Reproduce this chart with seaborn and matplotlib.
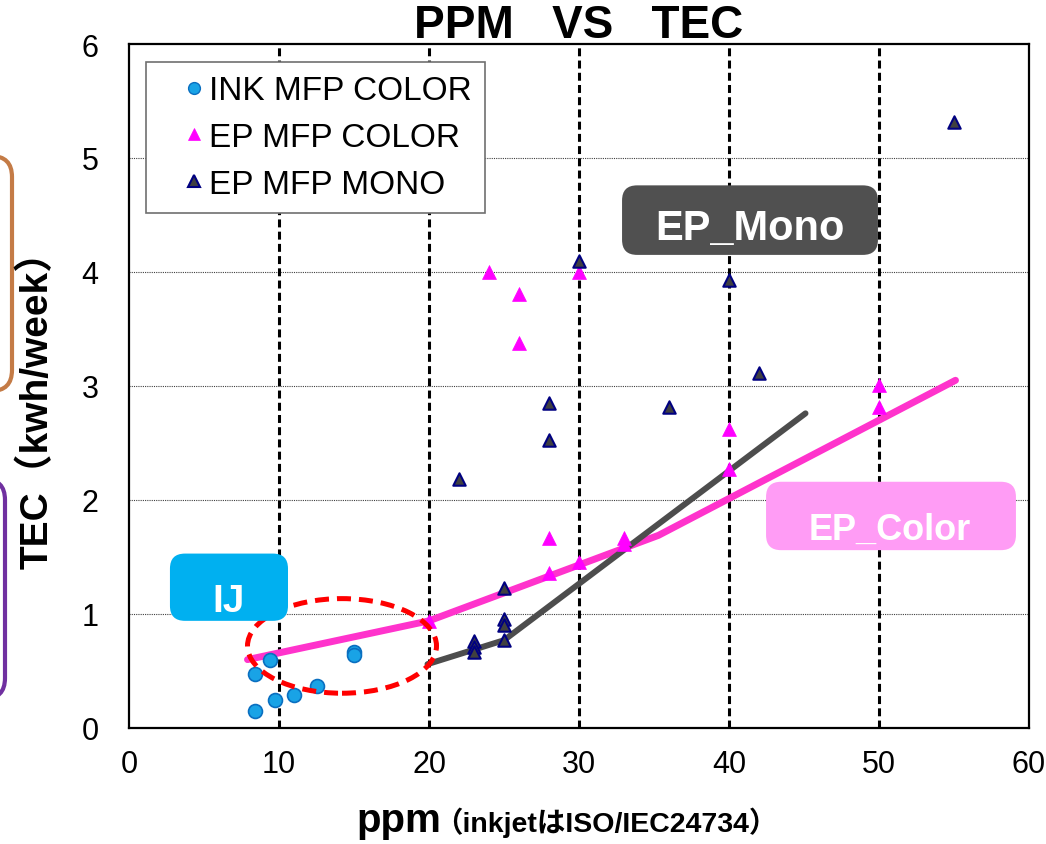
import matplotlib
matplotlib.use("Agg")
import matplotlib.pyplot as plt
import seaborn as sns
import pandas as pd
from matplotlib.patches import FancyBboxPatch, Ellipse
from matplotlib.lines import Line2D

# ---------------- data ----------------
ink_ppm = [9.4, 8.4, 9.7, 8.4, 11.0, 12.5, 15.0, 15.0]
ink_tec = [0.60, 0.47, 0.25, 0.15, 0.29, 0.37, 0.67, 0.64]

epc_ppm = [20, 24, 26, 26, 28, 28, 30, 30, 33, 33, 40, 40, 50, 50]
epc_tec = [0.94, 4.00, 3.81, 3.38, 1.67, 1.36, 1.46, 4.00, 1.67, 1.61, 2.62, 2.27, 3.01, 2.82]

epm_ppm = [22, 23, 23, 23, 25, 25, 25, 25, 28, 28, 30, 36, 40, 42, 55]
epm_tec = [2.18, 0.76, 0.71, 0.67, 1.23, 0.96, 0.90, 0.77, 2.85, 2.53, 4.10, 2.82, 3.93, 3.11, 5.32]

color_trend_ppm = [7.9, 20, 35.3, 55.1]
color_trend_tec = [0.60, 0.94, 1.69, 3.05]
mono_trend_ppm = [19.9, 25, 45.1]
mono_trend_tec = [0.56, 0.77, 2.76]

series_labels = ["INK MFP COLOR", "EP MFP COLOR", "EP MFP MONO"]
x_ticks = [0, 10, 20, 30, 40, 50, 60]
y_ticks = [0, 1, 2, 3, 4, 5, 6]
ref_lines = [10, 20, 30, 40, 50]
grid_lines = [1, 2, 3, 4, 5]

# ---------------- style ----------------
sns.set_theme(style="white")
plt.rcParams["font.family"] = ["Liberation Sans", "Noto Sans CJK JP"]
plt.rcParams["text.color"] = "black"
plt.rcParams["axes.labelcolor"] = "black"
plt.rcParams["xtick.color"] = "black"
plt.rcParams["ytick.color"] = "black"

W, H = 1046, 845
fig = plt.figure(figsize=(W / 100, H / 100), dpi=100)
ax_l, ax_b, ax_w, ax_h = 129 / W, 1 - 729 / H, 900 / W, 684 / H
ax = fig.add_axes([ax_l, ax_b, ax_w, ax_h])

ax.set_xlim(0, 60)
ax.set_ylim(0, 6)

# grid / reference lines
for g in grid_lines:
    ax.axhline(g, color="#404040", lw=0.8, ls=(0, (1, 1)), zorder=1)
for r in ref_lines:
    ax.axvline(r, color="black", lw=2.2, ls=(0, (2.6, 1.4)), zorder=1)

# trend lines
sns.lineplot(x=color_trend_ppm, y=color_trend_tec, sort=False, estimator=None,
             color="#ff33cc", linewidth=5, solid_capstyle="round", ax=ax, zorder=2)
sns.lineplot(x=mono_trend_ppm, y=mono_trend_tec, sort=False, estimator=None,
             color="#4d4d4d", linewidth=4.3, solid_capstyle="round", ax=ax, zorder=2)

# scatter series
df_ink = pd.DataFrame({"ppm": ink_ppm, "tec": ink_tec})
df_epc = pd.DataFrame({"ppm": epc_ppm, "tec": epc_tec})
df_epm = pd.DataFrame({"ppm": epm_ppm, "tec": epm_tec})
sns.scatterplot(data=df_ink, x="ppm", y="tec", marker="o", s=100, color="#19a3e6",
                edgecolor="#0a6fc0", linewidth=1.2, ax=ax, zorder=4, legend=False)
sns.scatterplot(data=df_epc, x="ppm", y="tec", marker="^", s=100, color="#ff00ff",
                edgecolor="#ff00ff", linewidth=0.5, ax=ax, zorder=4, legend=False)
sns.scatterplot(data=df_epm, x="ppm", y="tec", marker="^", s=80, color="#404040",
                edgecolor="#000080", linewidth=1.5, ax=ax, zorder=4, legend=False)

# axes styling
ax.set_xticks(x_ticks)
ax.set_yticks(y_ticks)
ax.tick_params(length=0, labelsize=22, colors="black")
ax.tick_params(axis="x", pad=15)
ax.tick_params(axis="y", pad=22)
ax.set_xlabel("")
ax.set_ylabel("")
for sp in ax.spines.values():
    sp.set_color("black")
    sp.set_linewidth(1.6)
ax.grid(False)

# callout boxes (rounded, data coordinates)
aspect = (ax_w * W / 60) / (ax_h * H / 6)


def callout(x0, x1, y0, y1, fc, text, tx, ty, fs):
    p = FancyBboxPatch((x0, y0), x1 - x0, y1 - y0,
                       boxstyle="round,pad=0,rounding_size=1.0",
                       mutation_aspect=aspect, fc=fc, ec="none", zorder=6)
    ax.add_patch(p)
    ax.text(tx, ty, text, color="white", fontsize=fs, fontweight="bold",
            ha="center", va="baseline", zorder=7)


callout(32.87, 49.93, 4.15, 4.76, "#505050", "EP_Mono", 41.4, 4.29, 30)
callout(42.47, 59.13, 1.56, 2.16, "#ff9cf5", "EP_Color", 50.73, 1.66, 26)
callout(2.73, 10.6, 0.94, 1.53, "#00b0f0", "IJ", 6.67, 1.03, 28)

# red dashed ellipse
ax.add_patch(Ellipse((14.2, 0.72), 12.6, 0.83, fill=False, ec="#ff0000", lw=3.6,
                     ls=(0, (2.8, 1.6)), zorder=5))

# legend
handles = [
    Line2D([], [], ls="none", marker="o", markersize=8.5, mfc="#19a3e6", mec="#0a6fc0", mew=1),
    Line2D([], [], ls="none", marker="^", markersize=8.5, mfc="#ff00ff", mec="#ff00ff", mew=0.5),
    Line2D([], [], ls="none", marker="^", markersize=8, mfc="#404040", mec="#000080", mew=1.5),
]
leg = ax.legend(handles, series_labels, loc="upper left",
                bbox_to_anchor=(17 / 900, 1 - (63 - 45) / 684), borderaxespad=0,
                fontsize=24, frameon=True, fancybox=False, edgecolor="#707070",
                framealpha=1, borderpad=0.4, labelspacing=0.47, handlelength=2.1,
                handletextpad=-0.6)
leg.get_frame().set_linewidth(1.2)
leg.set_zorder(8)

# title and axis labels
ax.set_title("PPM   VS   TEC", fontsize=33, fontweight="bold", pad=5, color="black")
fig.text(37 / W, 1 - 400 / H, "TEC（kwh/week）", rotation=90, fontsize=28,
         fontweight="bold", ha="center", va="center")
fig.text(441 / W, 1 - 832 / H, "ppm", fontsize=29, fontweight="bold",
         ha="right", va="baseline")
fig.text(434 / W, 1 - 832 / H, "（inkjetはISO/IEC24734）", fontsize=20.5,
         fontweight="bold", ha="left", va="baseline")

# decorative rounded frames at the left edge
fasp = W / H
fig.add_artist(FancyBboxPatch((-0.05, 1 - 392 / H), 0.05 + 12 / W, 235 / H,
                              boxstyle="round,pad=0,rounding_size=0.02",
                              mutation_aspect=fasp, fill=False, ec="#c47b46",
                              lw=3, transform=fig.transFigure, clip_on=False))
fig.add_artist(FancyBboxPatch((-0.05, 1 - 700 / H), 0.05 + 5 / W, 220 / H,
                              boxstyle="round,pad=0,rounding_size=0.02",
                              mutation_aspect=fasp, fill=False, ec="#7030a0",
                              lw=3, transform=fig.transFigure, clip_on=False))

fig.savefig("out.png", dpi=100)
